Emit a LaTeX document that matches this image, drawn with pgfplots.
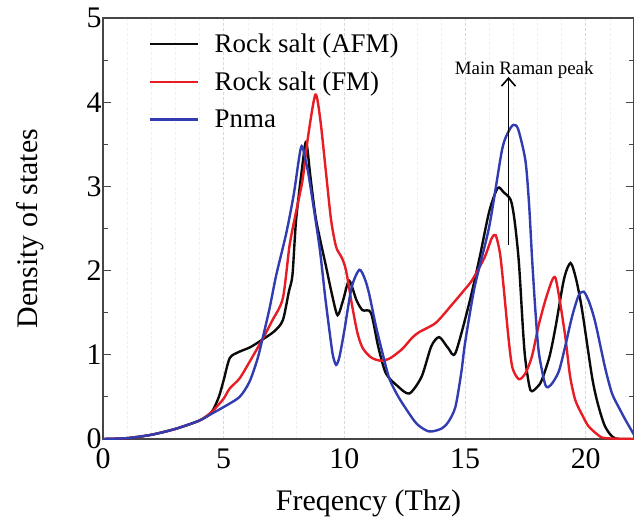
\documentclass[border=0pt]{standalone}
\usepackage{fontspec}
\setmainfont{Liberation Serif}
\usepackage{pgfplots}
\pgfplotsset{compat=1.18}
\usetikzlibrary{arrows.meta}
\definecolor{afm}{RGB}{10,10,10}
\definecolor{fm}{RGB}{232,28,36}
\definecolor{pnma}{RGB}{48,60,175}
\definecolor{spine}{RGB}{70,70,70}

\begin{document}
\begin{tikzpicture}
\useasboundingbox (-103bp,-80bp) rectangle (531bp,439bp);
\begin{axis}[
    scale only axis, width=531bp, height=421bp,
    xmin=0, xmax=22, ymin=0, ymax=5,
    xtick={0,5,10,15,20}, ytick={0,1,2,3,4,5},
    minor ytick={0.5,1.5,2.5,3.5,4.5},
    minor xtick={1,2,3,4,6,7,8,9,11,12,13,14,16,17,18,19,21},
    ytick pos=both, xtick pos=bottom, tick align=inside,
    major tick length=8bp, minor tick length=5bp,
    x tick style={draw=none},
    xmajorgrids, xminorgrids,
    major grid style={densely dashed, gray!30, line width=0.6bp},
    minor grid style={densely dashed, gray!12, line width=0.5bp},
    axis line style={spine, line width=1.4bp},
    every tick/.style={spine, line width=1bp},
    /pgf/number format/assume math mode=true,
    tick label style={font=\fontsize{30}{34}\selectfont},
    xticklabel style={yshift=-6bp},
    yticklabel style={xshift=2bp},
    xlabel={Freqency (Thz)}, ylabel={Density of states},
    label style={font=\fontsize{30}{34}\selectfont},
    xlabel style={yshift=-14bp},
    ylabel style={yshift=36bp},
    legend style={at={(rel axis cs:0.085,0.968)}, anchor=north west,
                  draw=none, fill=none, inner sep=0pt,
                  font=\fontsize{27}{30}\selectfont,
                  row sep=14bp, column sep=0bp,
                  /tikz/every odd column/.append style={column sep=14bp}},
    legend cell align=left,
    legend image code/.code={\draw[#1] (0bp,0bp) -- (48bp,0bp);},
    every axis plot/.append style={line width=2.4bp, smooth, tension=0.45},
]
\addplot[afm] coordinates {
 (0,0)(1,0.01)(2,0.05)(3,0.12)(4,0.22)(4.5,0.32)(4.8,0.5)(5.0,0.7)(5.25,0.96)
 (5.6,1.03)(6.1,1.09)(6.6,1.18)(7.1,1.28)(7.45,1.41)(7.7,1.75)(7.85,1.95)(8.0,2.6)
 (8.27,3.27)(8.42,3.53)(8.6,3.1)(8.83,2.6)(9.24,2.05)(9.5,1.7)(9.72,1.47)(9.95,1.65)
 (10.2,1.88)(10.5,1.65)(10.75,1.53)(11.1,1.5)(11.4,1.1)(11.72,0.78)(12.2,0.63)
 (12.69,0.54)(13.2,0.74)(13.6,1.1)(13.93,1.21)(14.3,1.08)(14.6,1.02)(15.17,1.61)
 (15.6,2.15)(16.0,2.7)(16.35,2.98)(16.6,2.93)(16.89,2.84)(17.05,2.6)(17.23,2.1)
 (17.4,1.3)(17.5,0.94)(17.71,0.58)(18.0,0.62)(18.18,0.70)(18.5,0.98)(18.75,1.33)
 (19.1,1.9)(19.37,2.09)(19.6,1.9)(19.85,1.53)(20.26,0.74)(20.5,0.42)(20.8,0.15)
 (21.2,0.01)(22,0)
};
\addlegendentry{Rock salt (AFM)}
\addplot[fm] coordinates {
 (0,0)(1,0.01)(2,0.05)(3,0.12)(4,0.22)(4.5,0.32)(4.7,0.38)(5.0,0.48)(5.25,0.6)
 (5.66,0.72)(6.1,0.93)(6.6,1.18)(7.0,1.4)(7.45,1.67)(7.73,2.3)(8.0,2.7)(8.27,3.08)
 (8.5,3.6)(8.8,4.09)(9.0,3.8)(9.24,3.16)(9.45,2.6)(9.66,2.28)(9.9,2.15)(10.07,2.0)
 (10.33,1.57)(10.55,1.25)(10.76,1.08)(11.1,0.97)(11.5,0.93)(11.9,0.96)(12.4,1.07)
 (12.8,1.2)(13.1,1.27)(13.79,1.38)(14.47,1.6)(15.0,1.78)(15.3,1.89)(15.8,2.15)
 (16.1,2.38)(16.27,2.42)(16.45,2.2)(16.6,1.8)(16.8,1.2)(16.96,0.85)(17.23,0.71)
 (17.5,0.78)(17.77,0.98)(18.05,1.35)(18.33,1.65)(18.6,1.88)(18.75,1.91)(18.95,1.6)
 (19.16,1.2)(19.35,0.75)(19.57,0.46)(19.9,0.26)(20.12,0.15)(20.5,0.05)(20.8,0.01)
 (22,0)
};
\addlegendentry{Rock salt (FM)}
\addplot[pnma] coordinates {
 (0,0)(1,0.01)(2,0.05)(3,0.12)(4,0.22)(4.5,0.3)(5,0.38)(5.66,0.5)(6.07,0.68)
 (6.4,0.95)(6.6,1.18)(6.9,1.55)(7.18,1.95)(7.59,2.44)(7.9,2.9)(8.21,3.47)(8.4,3.3)
 (8.55,3.08)(8.97,2.28)(9.2,1.7)(9.38,1.29)(9.52,1.0)(9.66,0.88)(9.8,0.98)(10.0,1.29)
 (10.3,1.8)(10.62,2.01)(10.85,1.9)(11.03,1.72)(11.3,1.35)(11.58,1.02)(11.86,0.72)
 (12.2,0.52)(12.55,0.36)(13.0,0.18)(13.5,0.09)(14.0,0.12)(14.3,0.2)(14.6,0.38)
 (14.85,0.8)(15.0,1.14)(15.4,1.81)(16.0,2.52)(16.53,3.43)(16.8,3.65)(17.0,3.73)
 (17.2,3.68)(17.5,3.31)(17.65,2.8)(17.78,2.13)(17.92,1.5)(18.06,1.02)(18.33,0.64)
 (18.55,0.64)(18.88,0.8)(19.15,1.1)(19.43,1.45)(19.7,1.7)(19.92,1.75)(20.15,1.62)
 (20.4,1.38)(20.8,0.85)(21.09,0.54)(21.4,0.36)(21.64,0.23)(22,0.05)
};
\addlegendentry{Pnma}
\draw[black, line width=1.6bp, -{Straight Barb[length=8bp,width=14bp,line width=1.6bp]}]
  (axis cs:16.8,2.3) -- (axis cs:16.8,4.3);
\node[font=\fontsize{19}{22}\selectfont, anchor=base] at (axis cs:17.45,4.33) {Main Raman peak};
\end{axis}
\end{tikzpicture}
\end{document}
